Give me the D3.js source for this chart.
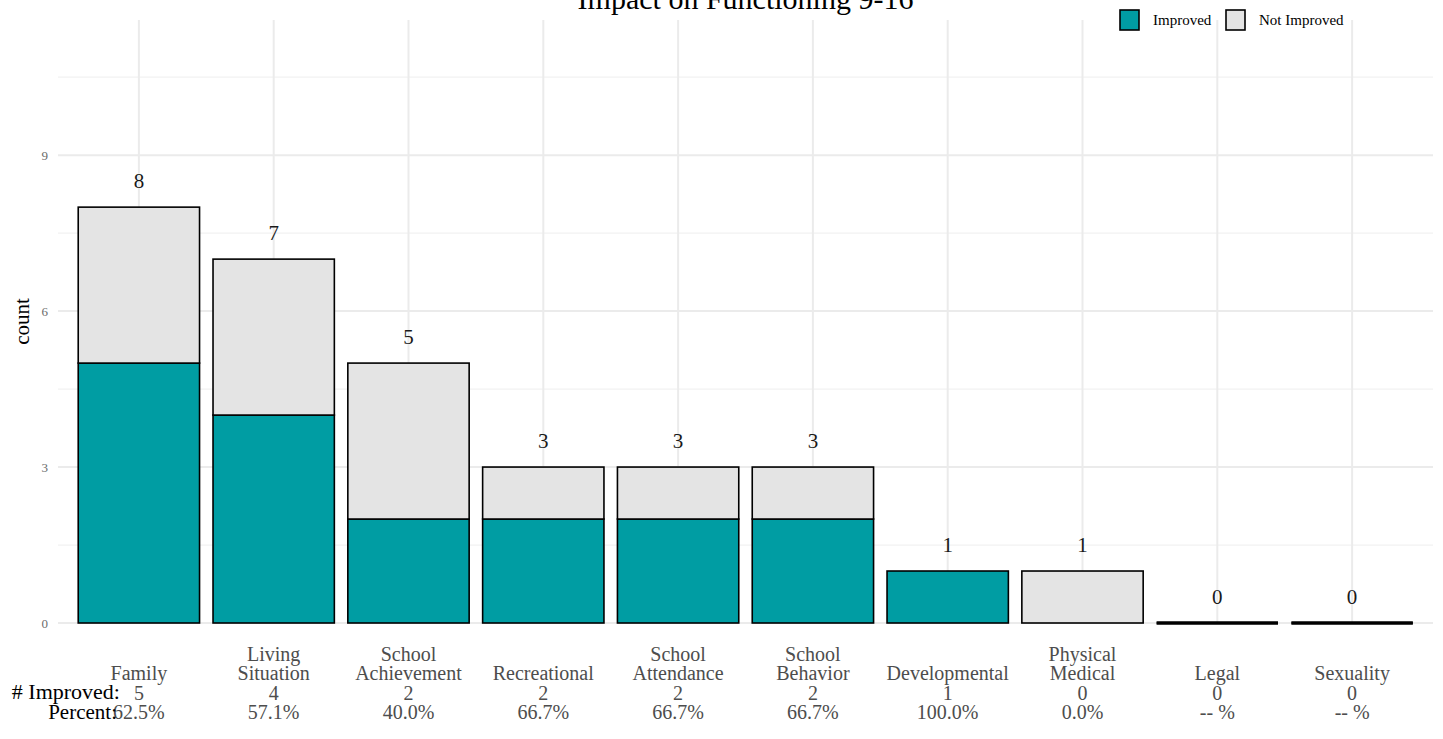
<!DOCTYPE html>
<html><head><meta charset="utf-8">
<script src="https://cdn.jsdelivr.net/npm/d3@7"></script>
<style>body{margin:0;background:#fff}svg{display:block}text{font-family:"Liberation Serif","DejaVu Serif",serif}</style>
</head><body><svg id="c" width="1443" height="739"></svg>
<script>
const categories = ["Family","Living\nSituation","School\nAchievement","Recreational","School\nAttendance","School\nBehavior","Developmental","Physical\nMedical","Legal","Sexuality"];
const improved = [5,4,2,2,2,2,1,0,0,0];
const notImproved = [3,3,3,1,1,1,0,1,0,0];
const yTicks = [0,3,6,9];
const yMinor = [1.5,4.5,7.5,10.5];
const seriesNames = ["Improved","Not Improved"];
const colors = {"Improved":"#009DA3","Not Improved":"#E4E4E4"};
const title = "Impact on Functioning 9-16";

const W=1443,H=739, L=58, R=1433, T=20, B=623;
const svg=d3.select("#c");
const x=d3.scaleBand().domain(d3.range(categories.length)).range([L,R]).paddingInner(0.1).paddingOuter(0.15);
const y=d3.scaleLinear().domain([0,11.6]).range([B,T]);

// grid
const g=svg.append("g");
g.selectAll(".gm").data(yMinor).join("line").attr("x1",L).attr("x2",R).attr("y1",d=>y(d)).attr("y2",d=>y(d)).attr("stroke","#f2f2f2").attr("stroke-width",1.2);
g.selectAll(".gM").data(yTicks).join("line").attr("x1",L).attr("x2",R).attr("y1",d=>y(d)).attr("y2",d=>y(d)).attr("stroke","#ebebeb").attr("stroke-width",2);
g.selectAll(".gx").data(d3.range(categories.length)).join("line").attr("x1",d=>x(d)+x.bandwidth()/2).attr("x2",d=>x(d)+x.bandwidth()/2).attr("y1",T).attr("y2",B).attr("stroke","#ebebeb").attr("stroke-width",2);

// y axis
const ya=svg.append("g").attr("transform",`translate(${L},0)`).call(d3.axisLeft(y).tickValues(yTicks).tickSize(0).tickPadding(10));
ya.select(".domain").remove();
ya.selectAll("text").attr("fill","#6b6b6b").attr("font-size",13).attr("font-family","Liberation Serif");
svg.append("text").attr("transform",`translate(29,${(T+B)/2}) rotate(-90)`).attr("text-anchor","middle").attr("font-size",21).attr("fill","#000").text("count");

// bars
const totals=categories.map((c,i)=>improved[i]+notImproved[i]);
const stackData=categories.map((c,i)=>({i,"Improved":improved[i],"Not Improved":notImproved[i]}));
const stack=d3.stack().keys(seriesNames)(stackData);
const bars=svg.append("g");
stack.forEach(s=>{
  s.forEach(d=>{
    const i=d.data.i;
    if(d[1]-d[0]>0){
      bars.append("rect").attr("x",x(i)).attr("width",x.bandwidth())
        .attr("y",y(d[1])).attr("height",y(d[0])-y(d[1]))
        .attr("fill",colors[s.key]).attr("stroke","#000").attr("stroke-width",1.6);
    } else if(totals[i]===0){
      bars.append("line").attr("x1",x(i)).attr("x2",x(i)+x.bandwidth())
        .attr("y1",y(d[0])).attr("y2",y(d[0])).attr("stroke","#000").attr("stroke-width",3);
    }
  });
});

// totals
svg.append("g").selectAll("text").data(totals).join("text")
 .attr("x",(d,i)=>x(i)+x.bandwidth()/2).attr("y",d=>y(d+0.5)).attr("dy","0.35em")
 .attr("text-anchor","middle").attr("font-size",21).attr("fill","#1a1a1a").text(d=>d);

// x labels
const lh=19.5;
categories.forEach((c,i)=>{
  const lines=c.split("\n");
  const pct = totals[i]===0 ? "-- %" : (100*improved[i]/totals[i]).toFixed(1)+"%";
  const all=[...lines, String(improved[i]), pct];
  const cx=x(i)+x.bandwidth()/2;
  const baseY=719 - (all.length-1)*lh;
  const t=svg.append("text").attr("text-anchor","middle").attr("font-size",20).attr("fill","#4d4d4d");
  all.forEach((s,k)=>t.append("tspan").attr("x",cx).attr("y",baseY+k*lh).text(s));
});
svg.append("text").attr("x",120).attr("y",699).attr("text-anchor","end").attr("font-size",22).attr("fill","#000").text("# Improved:");
svg.append("text").attr("x",117).attr("y",719).attr("text-anchor","end").attr("font-size",21).attr("fill","#000").text("Percent:");

// title
svg.append("text").attr("x",(L+R)/2).attr("y",9).attr("text-anchor","middle").attr("font-size",30).attr("fill","#000").text(title);

// legend
const leg=svg.append("g");
const lx=[1120,1226];
seriesNames.forEach((s,k)=>{
  leg.append("rect").attr("x",lx[k]).attr("y",10).attr("width",19).attr("height",20).attr("fill",colors[s]).attr("stroke","#000").attr("stroke-width",1.6);
  leg.append("text").attr("x",lx[k]+33).attr("y",25).attr("font-size",15).attr("fill","#000").text(s);
});
</script></body></html>
